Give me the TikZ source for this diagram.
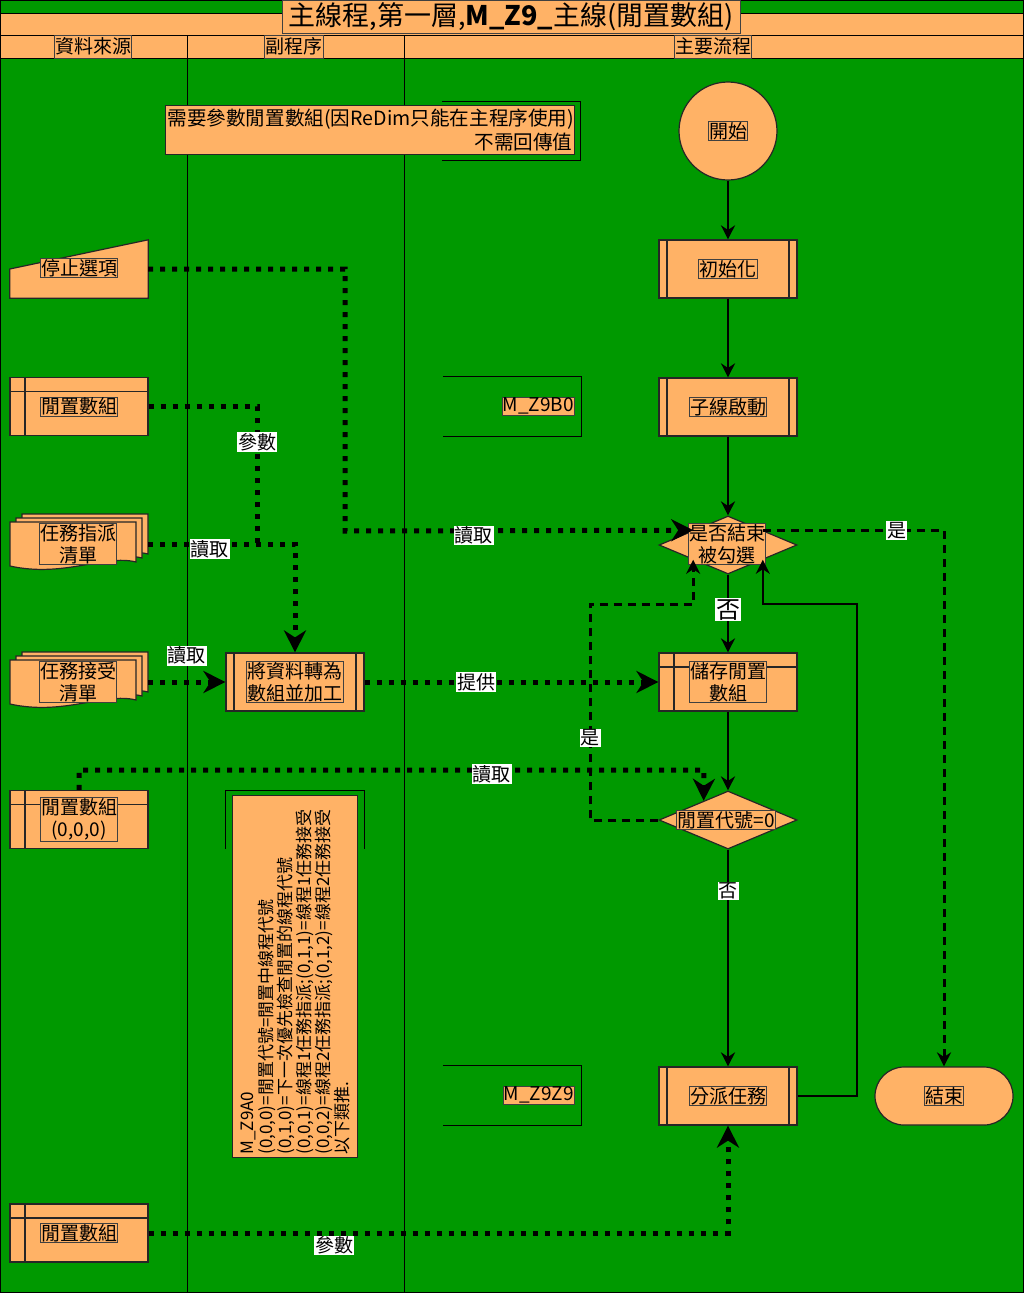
\documentclass[tikz,border=0pt]{standalone}
\usepackage{fontspec}
\setmainfont{Noto Sans CJK TC}
\usetikzlibrary{arrows.meta,shapes.geometric,calc}
\definecolor{lanegreen}{RGB}{0,153,0}
\definecolor{boxorange}{RGB}{255,178,102}

\begin{document}
\begin{tikzpicture}[x=1pt, y=-1pt,
    every node/.style={font=\fontsize{19}{22}\selectfont},
    shp/.style={draw=black!85, line width=1.2pt, fill=boxorange},
    tag/.style={draw=black!75, line width=0.7pt, fill=boxorange, inner sep=0.8pt, align=center},
    lbl/.style={fill=white, inner sep=1pt},
    box/.style={minimum width=138pt, minimum height=58pt, inner sep=0pt},
    proc/.style={shp, box, path picture={
        \draw[line width=1.2pt] ([xshift=8pt]path picture bounding box.north west) -- ([xshift=8pt]path picture bounding box.south west);
        \draw[line width=1.2pt] ([xshift=-8pt]path picture bounding box.north east) -- ([xshift=-8pt]path picture bounding box.south east);}},
    store/.style={shp, box, path picture={
        \draw[line width=1.2pt] ([xshift=15pt]path picture bounding box.north west) -- ([xshift=15pt]path picture bounding box.south west);
        \draw[line width=1.2pt] ([yshift=-14pt]path picture bounding box.north west) -- ([yshift=-14pt]path picture bounding box.north east);}},
    dec/.style={shp, diamond, minimum width=138pt, minimum height=58pt, inner sep=0pt},
    term/.style={shp, box, rounded corners=29pt},
    flow/.style={line width=2.5pt, -{Stealth[length=14pt,width=14pt]}},
    dashline/.style={line width=3pt, dash pattern=on 8pt off 6pt, -{Stealth[length=14pt,width=14pt]}},
    dotline/.style={line width=5pt, dash pattern=on 5pt off 7pt},
    bigtip/.style={-{Stealth[length=22pt,width=22pt,inset=7pt]}},
    pics/mdoc/.style={code={
        \foreach \d in {2,1,0} {
            \filldraw[shp, shift={(6*\d,-4*\d)}] (-69,-22) -- (57,-22) -- (57,18)
                .. controls (25,10) and (-15,34) .. (-69,22) -- cycle;
        }
    }}
]
    \useasboundingbox (0,0) rectangle (1024,1293);

    % Background and swim lanes
    \fill[lanegreen] (0,0) rectangle (1024,1293);
    \filldraw[fill=boxorange, draw=black, line width=0.8pt] (0,13) rectangle (1024,35);
    \filldraw[fill=boxorange, draw=black, line width=0.8pt] (0,35) rectangle (1024,58);
    \draw[line width=0.8pt] (187,35) -- (187,1293);
    \draw[line width=0.8pt] (404,35) -- (404,1293);
    \draw[line width=1.5pt] (0,0) rectangle (1024,1293);

    \node[tag, minimum width=458pt, minimum height=33pt, font=\fontsize{27}{29}\selectfont] (title) at (511,17)
        {主線程,第一層,\textbf{M\_Z9\_}主線(閒置數組)};
    \node[tag, minimum height=23pt] (lane1) at (93,46.5) {資料來源};
    \node[tag, minimum height=23pt] (lane2) at (294,46.5) {副程序};
    \node[tag, minimum height=23pt] (lane3) at (713,46.5) {主要流程};

    % Note at the top
    \node[minimum width=138pt, minimum height=59pt] (note-b) at (511,131) {};
    \draw[line width=1.2pt] (note-b.north west) -- (note-b.north east) -- (note-b.south east) -- (note-b.south west);
    \node[shp, line width=0.8pt, minimum width=409pt, minimum height=49pt, text width=405pt, inner sep=1pt,
          align=right, font=\fontsize{19.6}{24}\selectfont] (note) at (370,130)
        {需要參數閒置數組(因ReDim只能在主程序使用)\\不需回傳值};

    % Data sources
    \node[box] (stop) at (79,269) {};
    \filldraw[shp] (stop.west) -- (stop.north east) -- (stop.south east) -- (stop.south west) -- cycle;
    \node[tag] (stop-t) at (79,268) {停止選項};

    \node[store, label={[tag]center:閒置數組}] (cfg) at (79,406.5) {};

    \node[box] (asgn) at (79,544) {};
    \pic at (asgn) {mdoc};
    \node[tag] (asgn-t) at (78,544) {任務指派\\清單};

    \node[box] (acpt) at (79,682) {};
    \pic at (acpt) {mdoc};
    \node[tag] (acpt-t) at (78,682) {任務接受\\清單};

    \node[store, label={[tag]center:閒置數組\\(0,0,0)}] (zero) at (79,819.5) {};
    \node[store, label={[tag]center:閒置數組}] (arr2) at (79,1233) {};

    % Sub procedure lane
    \node[proc, label={[tag]center:將資料轉為\\數組並加工}] (conv) at (295,682) {};

    \node[minimum width=138pt, minimum height=58pt] (legend-b) at (295,820) {};
    \draw[line width=1.2pt] (legend-b.south west) -- (legend-b.north west) -- (legend-b.north east) -- (legend-b.south east);
    \node[shp, line width=0.8pt, rotate=90, minimum width=362pt, minimum height=125pt, text width=357pt,
          inner sep=2pt, align=left, font=\fontsize{17}{19}\selectfont] (legend) at (295,976)
        {M\_Z9A0\\
         (0,0,0)=閒置代號=閒置中線程代號\\
         (0,1,0)=下一次優先檢查閒置的線程代號\\
         (0,0,1)=線程1任務指派;(0,1,1)=線程1任務接受\\
         (0,0,2)=線程2任務指派;(0,1,2)=線程2任務接受\\
         以下類推.};

    \node[minimum width=138pt, minimum height=59pt] (subB) at (512,406.5) {};
    \draw[line width=1.2pt] (subB.north west) -- (subB.north east) -- (subB.south east) -- (subB.south west);
    \node[tag, anchor=east] (subB-t) at (575,406) {M\_Z9B0};

    \node[minimum width=138pt, minimum height=59pt] (subZ) at (512,1095.5) {};
    \draw[line width=1.2pt] (subZ.north west) -- (subZ.north east) -- (subZ.south east) -- (subZ.south west);
    \node[tag, anchor=east] (subZ-t) at (575,1095) {M\_Z9Z9};

    % Main flow
    \node[shp, circle, minimum size=98pt, inner sep=0pt, label={[tag]center:開始}] (start) at (728,131) {};
    \node[proc, label={[tag]center:初始化}] (init) at (728,269) {};
    \node[proc, label={[tag]center:子線啟動}] (spawn) at (728,407) {};
    \node[dec] (chk) at (728,545) {};
    \node[tag] (chk-t) at (727,544) {是否結束\\被勾選};
    \node[store, label={[tag]center:儲存閒置\\數組}] (save) at (728,682) {};
    \node[dec] (idle) at (728,820) {};
    \node[tag] (idle-t) at (726,820) {閒置代號=0};
    \node[proc, label={[tag]center:分派任務}] (disp) at (728,1096) {};
    \node[term, label={[tag]center:結束}] (fin) at (944,1096) {};

    \coordinate (r1) at (857,604);
    \coordinate (l1) at (590,604);
    \coordinate (c1) at (345,531);
    \coordinate (j1) at (257,544);
    \coordinate (c3) at (704,770);

    % Solid flow
    \draw[flow] (start) -- (init);
    \draw[flow] (init) -- (spawn);
    \draw[flow] (spawn) -- (chk);
    \draw[flow] (chk) -- node[lbl, font=\fontsize{24}{26}\selectfont, pos=0.45] {否} (save);
    \draw[flow] (save) -- (idle);
    \draw[flow] (idle) -- node[lbl, pos=0.19] {否} (disp);
    \draw[flow] (disp.east) -| (r1) -| ($(chk.south)!0.5!(chk.east)$);

    % Yes branches
    \draw[dashline] (idle.west) -| node[lbl, pos=0.69] {是} (l1) -| ($(chk.south)!0.5!(chk.west)$);
    \draw[dashline] ($(chk.north)!0.5!(chk.east)$) -| node[lbl, pos=0.37] {是} (fin.north);

    % Data reads
    \draw[dotline, bigtip] (stop.east) -| (c1) -- node[lbl, pos=0.37, yshift=-5pt] {讀取} ($(chk.north)!0.5!(chk.west)$);
    \draw[dotline] (cfg.east) -| node[lbl, pos=0.63] {參數} (j1);
    \draw[dotline, bigtip] (asgn.east) -| node[lbl, pos=0.21, yshift=-5pt] {讀取} (conv.north);
    \draw[dotline, bigtip] (acpt) -- node[lbl, above=14pt] {讀取} (conv);
    \draw[dotline, bigtip] (conv) -- node[lbl, pos=0.38] {提供} (save);
    \draw[dotline, bigtip] (zero.north) |- node[lbl, pos=0.83, yshift=-4pt] {讀取} (c3) -- ($(idle.north)!0.35!(idle.west)$);
    \draw[dotline, bigtip] (arr2.east) -| node[lbl, below, pos=0.16] {參數} (disp.south);
\end{tikzpicture}
\end{document}
